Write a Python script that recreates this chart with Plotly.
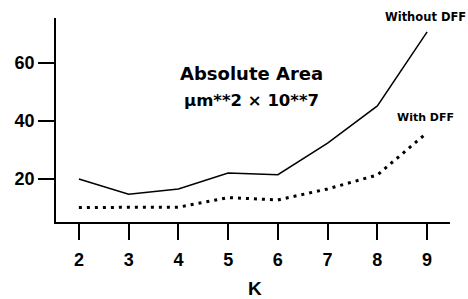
import plotly.graph_objects as go

k_values = [2, 3, 4, 5, 6, 7, 8, 9]
without_dff = [20.0, 14.8, 16.6, 22.1, 21.5, 32.4, 45.2, 70.7]
with_dff = [10.2, 10.3, 10.3, 13.6, 12.8, 16.6, 21.4, 36.0]
y_ticks = [20, 40, 60]

FONT = "Liberation Sans"
NOTE_FONT = "DejaVu Sans"

fig = go.Figure()
fig.add_trace(go.Scatter(x=k_values, y=without_dff, mode="lines",
                         line=dict(color="black", width=1.5), name="Without DFF"))
fig.add_trace(go.Scatter(x=k_values, y=with_dff, mode="lines",
                         line=dict(color="black", width=3, dash="3px,5px"), name="With DFF"))

fig.update_layout(
    width=468, height=299,
    margin=dict(l=56, r=18, t=18, b=77),
    paper_bgcolor="white", plot_bgcolor="white",
    showlegend=False,
    font=dict(family=FONT, color="black"),
    xaxis=dict(range=[1.54, 9.46], tickvals=k_values, ticks="outside", ticklen=16,
               tickwidth=1.5, tickcolor="black", showline=True, linecolor="black",
               linewidth=1.5, showgrid=False, zeroline=False, automargin=False,
               tickfont=dict(family=FONT, size=18, color="black", weight="bold"),
               ticklabelstandoff=5),
    yaxis=dict(range=[5.2, 75.5], tickvals=y_ticks, ticks="outside", ticklen=16,
               tickwidth=1.5, tickcolor="black", showline=True, linecolor="black",
               linewidth=1.5, showgrid=False, zeroline=False, automargin=False,
               tickfont=dict(family=FONT, size=18, color="black", weight="bold")),
)

def note(text, x, y, size, family=NOTE_FONT):
    fig.add_annotation(text=f"<b>{text}</b>", x=x, y=y, xref="paper", yref="paper",
                       showarrow=False, xanchor="center", yanchor="middle",
                       font=dict(family=family, size=size, color="black"))

note("Absolute Area", 0.495, 0.73, 18)
note("µm**2 × 10**7", 0.495, 0.598, 16.5)
note("Without DFF", 0.937, 1.005, 11.5)
note("With DFF", 0.937, 0.51, 11)
note("K", 0.505, -0.324, 19, FONT)

fig.write_html("out.html", config={"displayModeBar": False},
               post_script="document.body.style.margin='0';document.body.style.overflow='hidden';")
